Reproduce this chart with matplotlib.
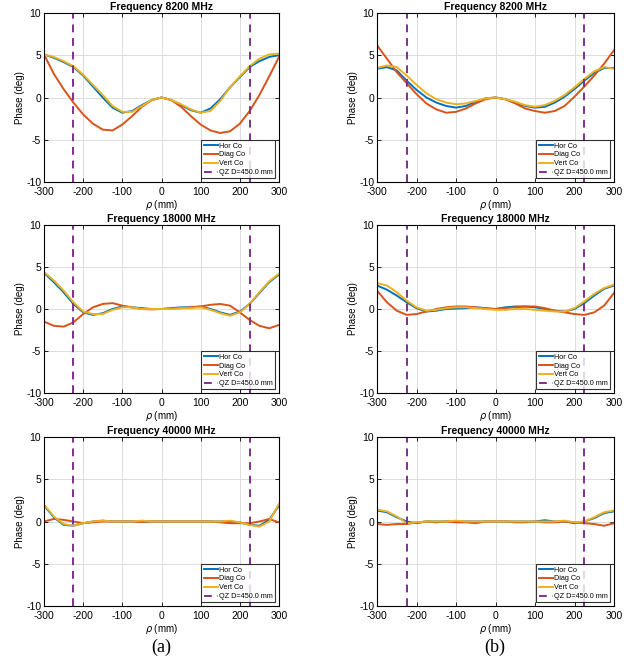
"""Phase vs rho cuts at three frequencies, two configurations (a) and (b)."""
import matplotlib.pyplot as plt
import numpy as np

plt.rcParams["font.family"] = ["Liberation Sans", "DejaVu Sans"]
plt.rcParams["axes.unicode_minus"] = False

BLUE = "#0072BD"
ORANGE = "#D95319"
YELLOW = "#EDB120"
PURPLE = "#7E2F8E"

# rho sample positions (mm)
rho = np.arange(-300, 301, 25)

freqs = [8200, 18000, 40000]
qz_diam = 450.0

# ---- column (a) ----
a_8200_hor = [5.1, 4.7, 4.2, 3.6, 2.6, 1.3, 0.0, -1.2, -1.8, -1.6, -0.9, -0.3, 0.0,
              -0.3, -0.9, -1.5, -1.8, -1.3, -0.2, 1.2, 2.4, 3.6, 4.3, 4.8, 5.0]
a_8200_diag = [5.1, 2.8, 1.0, -0.6, -2.0, -3.1, -3.8, -3.9, -3.2, -2.2, -1.1, -0.3, 0.0,
               -0.3, -1.1, -2.2, -3.2, -3.9, -4.2, -4.0, -3.1, -1.6, 0.3, 2.5, 4.8]
a_8200_vert = [5.1, 4.8, 4.3, 3.7, 2.7, 1.5, 0.3, -1.0, -1.7, -1.7, -1.0, -0.3, 0.0,
               -0.3, -0.8, -1.4, -1.8, -1.6, -0.4, 1.2, 2.5, 3.7, 4.6, 5.1, 5.2]

a_18000_hor = [4.3, 3.2, 2.0, 0.6, -0.4, -0.7, -0.5, 0.0, 0.3, 0.2, 0.1, 0.0, 0.0,
               0.1, 0.2, 0.2, 0.3, 0.0, -0.4, -0.7, -0.3, 0.6, 1.9, 3.2, 4.1]
a_18000_diag = [-1.5, -2.0, -2.1, -1.6, -0.6, 0.2, 0.6, 0.7, 0.4, 0.2, 0.0, -0.05, 0.0,
                0.05, 0.1, 0.2, 0.3, 0.5, 0.6, 0.4, -0.4, -1.3, -2.0, -2.3, -1.9]
a_18000_vert = [4.4, 3.4, 2.2, 0.8, -0.3, -0.6, -0.6, -0.1, 0.2, 0.2, 0.0, 0.0, 0.0,
                0.0, 0.1, 0.1, 0.2, -0.1, -0.5, -0.8, -0.4, 0.6, 2.0, 3.3, 4.2]

a_40000_hor = [1.9, 0.5, -0.4, -0.5, -0.2, 0.0, 0.1, 0.0, 0.0, 0.0, 0.0, 0.0, 0.0,
               0.0, 0.0, 0.0, 0.0, 0.0, 0.0, 0.0, -0.1, -0.4, -0.5, 0.2, 1.9]
a_40000_diag = [0.0, 0.3, 0.2, 0.0, -0.2, -0.1, 0.0, 0.0, 0.0, 0.0, -0.05, 0.0, 0.0,
                0.0, 0.0, 0.0, 0.0, 0.0, -0.1, -0.2, -0.2, -0.2, 0.0, 0.3, -0.1]
a_40000_vert = [2.0, 0.6, -0.3, -0.5, -0.2, 0.0, 0.1, 0.0, 0.0, 0.0, 0.1, 0.0, 0.0,
                0.0, 0.0, 0.0, 0.0, 0.0, 0.0, 0.1, -0.1, -0.4, -0.6, 0.0, 2.1]

# ---- column (b) ----
b_8200_hor = [3.4, 3.6, 3.2, 2.0, 0.9, 0.0, -0.6, -1.0, -1.2, -1.0, -0.5, -0.1, 0.0,
              -0.2, -0.6, -1.0, -1.2, -1.1, -0.6, 0.1, 1.0, 2.0, 2.9, 3.5, 3.5]
b_8200_diag = [6.2, 4.6, 3.0, 1.7, 0.4, -0.7, -1.4, -1.8, -1.7, -1.3, -0.7, -0.2, 0.0,
               -0.2, -0.7, -1.3, -1.6, -1.8, -1.6, -1.0, 0.1, 1.3, 2.6, 4.0, 5.6]
b_8200_vert = [3.5, 3.8, 3.6, 2.6, 1.5, 0.5, -0.2, -0.6, -0.8, -0.7, -0.4, -0.1, 0.0,
               -0.2, -0.5, -0.9, -1.1, -0.9, -0.4, 0.3, 1.2, 2.2, 3.1, 3.6, 3.4]

b_18000_hor = [2.8, 2.3, 1.6, 0.8, 0.1, -0.3, -0.2, 0.0, 0.05, 0.1, 0.2, 0.1, 0.0,
               0.2, 0.3, 0.3, 0.2, 0.0, -0.2, -0.3, 0.0, 0.7, 1.6, 2.4, 2.8]
b_18000_diag = [2.2, 0.8, -0.2, -0.7, -0.6, -0.3, 0.0, 0.2, 0.3, 0.3, 0.2, 0.05, 0.0,
                0.1, 0.2, 0.3, 0.3, 0.1, -0.2, -0.4, -0.6, -0.7, -0.4, 0.4, 1.9]
b_18000_vert = [3.1, 2.8, 2.0, 1.0, 0.2, -0.2, -0.1, 0.1, 0.2, 0.2, 0.1, 0.0, -0.1,
                -0.1, 0.0, 0.0, -0.1, -0.2, -0.3, -0.3, 0.1, 0.9, 1.8, 2.5, 2.9]

b_40000_hor = [1.3, 1.1, 0.5, 0.0, -0.2, 0.0, 0.0, 0.0, 0.0, 0.0, 0.0, 0.0, 0.0,
               0.0, 0.0, 0.0, 0.0, 0.15, 0.0, 0.0, -0.2, 0.0, 0.4, 1.0, 1.2]
b_40000_diag = [-0.3, -0.4, -0.3, -0.3, -0.1, 0.0, -0.1, 0.0, -0.1, -0.1, -0.2, 0.0, 0.0,
                0.0, -0.1, -0.1, 0.0, -0.1, -0.1, 0.0, -0.1, -0.2, -0.3, -0.5, -0.2]
b_40000_vert = [1.4, 1.2, 0.6, -0.2, -0.1, 0.0, 0.0, 0.0, 0.1, 0.0, 0.0, 0.0, 0.0,
                0.0, 0.0, 0.0, 0.0, 0.0, 0.0, 0.1, -0.1, 0.0, 0.5, 1.1, 1.3]

col_a = [(a_8200_hor, a_8200_diag, a_8200_vert),
         (a_18000_hor, a_18000_diag, a_18000_vert),
         (a_40000_hor, a_40000_diag, a_40000_vert)]
col_b = [(b_8200_hor, b_8200_diag, b_8200_vert),
         (b_18000_hor, b_18000_diag, b_18000_vert),
         (b_40000_hor, b_40000_diag, b_40000_vert)]

W, H = 633, 660
fig = plt.figure(figsize=(W / 100, H / 100), dpi=100)

# axes boxes in pixels: (left, right) and (top, bottom)
col_x = [(44, 279), (377, 614)]
row_y = [(13, 182), (225, 393), (437, 606)]


def draw_panel(ax, freq, hor, diag, vert):
    ax.plot(rho, hor, color=BLUE, lw=1.4, label="Hor Co")
    ax.plot(rho, diag, color=ORANGE, lw=1.4, label="Diag Co")
    ax.plot(rho, vert, color=YELLOW, lw=1.4, label="Vert Co")
    ax.axvline(-qz_diam / 2, color=PURPLE, lw=1.4, ls=(0, (4, 3)), label="QZ D=450.0 mm")
    ax.axvline(qz_diam / 2, color=PURPLE, lw=1.4, ls=(0, (4, 3)))
    ax.set_xlim(-300, 300)
    ax.set_ylim(-10, 10)
    ax.set_xticks(range(-300, 301, 100))
    ax.set_yticks([-10, -5, 0, 5, 10])
    ax.grid(True, color="#DCDCDC", lw=0.7)
    ax.set_axisbelow(True)
    ax.tick_params(direction="in", length=3, width=0.6, labelsize=7.5,
                   top=True, right=True)
    ax.tick_params(axis="x", pad=3.5)
    ax.tick_params(axis="y", pad=2)
    for s in ax.spines.values():
        s.set_linewidth(0.8)
    ax.set_title(f"Frequency {freq} MHz", fontsize=7.5, fontweight="bold", pad=2)
    ax.set_ylabel("Phase (deg)", fontsize=7, labelpad=1)
    ax.set_xlabel(r"$\rho$ (mm)", fontsize=7, labelpad=0.5)
    leg = ax.legend(loc="lower right", fontsize=5.2, frameon=True, fancybox=False,
                    edgecolor="black", handlelength=2.0, handletextpad=0.2,
                    borderpad=0.3, labelspacing=0.25, borderaxespad=0.5)
    leg.get_frame().set_linewidth(0.8)


for c, (cx, data) in enumerate(zip(col_x, [col_a, col_b])):
    for r, (ry, freq) in enumerate(zip(row_y, freqs)):
        l, rt = cx
        t, b = ry
        ax = fig.add_axes([l / W, 1 - b / H, (rt - l) / W, (b - t) / H])
        hor, diag, vert = data[r]
        draw_panel(ax, freq, hor, diag, vert)

fig.text(161 / W, 1 - 647 / H, "(a)", fontsize=13, family="Liberation Serif",
         ha="center", va="center")
fig.text(495 / W, 1 - 647 / H, "(b)", fontsize=13, family="Liberation Serif",
         ha="center", va="center")

fig.savefig("out.png", dpi=100)
